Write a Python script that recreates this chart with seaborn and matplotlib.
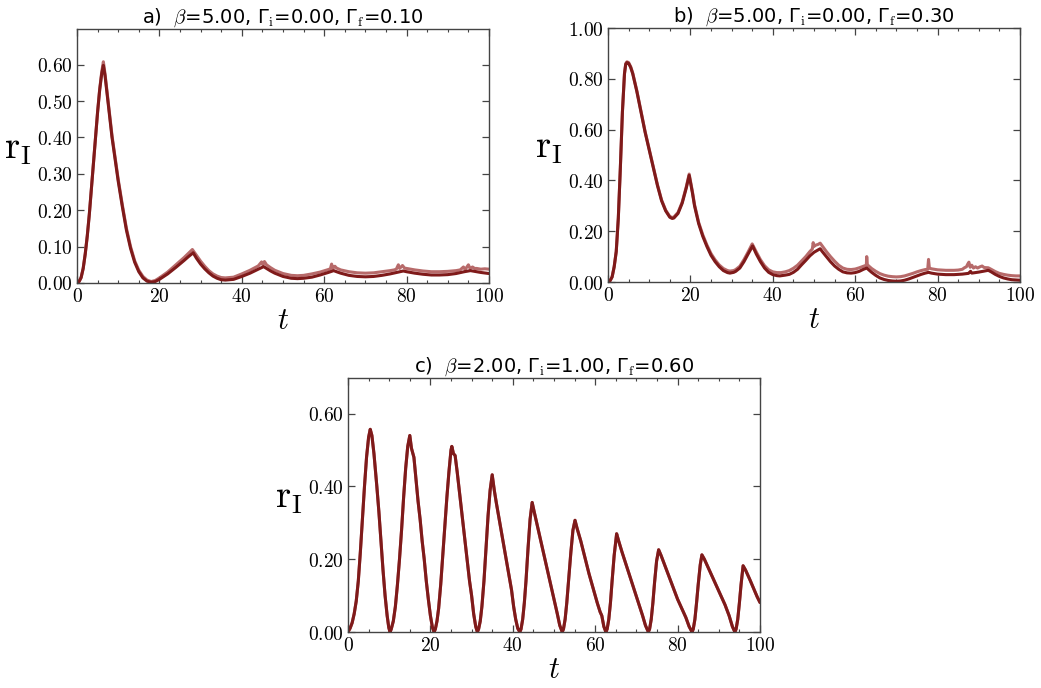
import matplotlib
matplotlib.use("Agg")
import matplotlib.pyplot as plt
import seaborn as sns
from matplotlib.ticker import MultipleLocator, FuncFormatter

# ---------------- data ----------------
titles = [r"a)  $\beta$=5.00, Γ$_\mathrm{i}$=0.00, Γ$_\mathrm{f}$=0.10",
          r"b)  $\beta$=5.00, Γ$_\mathrm{i}$=0.00, Γ$_\mathrm{f}$=0.30",
          r"c)  $\beta$=2.00, Γ$_\mathrm{i}$=1.00, Γ$_\mathrm{f}$=0.60"]
ylims = [0.698, 1.00, 0.698]
yticks_step = [0.10, 0.20, 0.20]

# panel a, dark curve
ta_dark = [0, 0.5, 1, 1.5, 2, 2.5, 3, 3.5, 4, 4.5, 5, 5.5, 6, 6.4, 6.8, 7.3, 8, 8.5, 9, 10, 11,
           12, 13, 14, 15, 16, 17, 18,
           19, 20, 22, 24, 26, 27, 28.2, 29, 30, 31, 32, 33, 34, 35, 36, 38, 40, 42, 44, 45.3,
           46, 47, 48, 50, 52, 53.5, 55, 57, 59, 61, 62.3, 63, 64, 66, 68, 70, 72, 74, 76, 78,
           79.2, 80, 82, 84, 86, 88, 90, 92, 94, 95.5, 96, 98, 100]
ra_dark = [0, 0.004, 0.015, 0.04, 0.08, 0.13, 0.19, 0.26, 0.33, 0.40, 0.47, 0.53, 0.575, 0.598,
           0.57, 0.52, 0.45, 0.40, 0.36, 0.28, 0.21,
           0.145, 0.095, 0.057, 0.031, 0.014, 0.005, 0.002,
           0.004, 0.010, 0.025, 0.043, 0.062, 0.072, 0.083, 0.068, 0.052, 0.039, 0.028, 0.019,
           0.013, 0.009, 0.008, 0.010, 0.018, 0.027, 0.038, 0.045,
           0.040, 0.033, 0.027, 0.018, 0.013, 0.012, 0.013, 0.016, 0.022, 0.029, 0.034, 0.031,
           0.027, 0.021, 0.018, 0.017, 0.018, 0.021, 0.025, 0.030,
           0.033, 0.031, 0.027, 0.024, 0.022, 0.022, 0.023, 0.026, 0.031, 0.034, 0.033, 0.029, 0.026]

# panel a, light curve
ta_light = [0, 0.5, 1, 1.5, 2, 2.5, 3, 3.5, 4, 4.5, 5, 5.5, 6, 6.4, 6.8, 7.3, 8, 8.5, 9, 10, 11,
            12, 13, 14, 15, 16, 17, 18,
            19, 20, 22, 24, 26, 27, 28.0, 29, 30, 31, 32, 33, 34, 35, 36, 38, 40, 42, 44, 44.8,
            45.1, 45.5, 46, 47, 48, 50, 52, 53.5, 55, 57, 59, 61, 61.5, 61.8, 62.1, 62.6, 63, 64,
            66, 68, 70, 72, 74, 76, 77, 77.5, 78, 78.3, 79, 79.5, 80, 82, 84, 86, 88, 90, 92, 93,
            93.8, 94.2, 95, 95.4, 96, 96.5, 97, 98, 99, 100]
ra_light = [0, 0.004, 0.015, 0.04, 0.08, 0.13, 0.19, 0.26, 0.33, 0.40, 0.47, 0.532, 0.58, 0.608,
            0.575, 0.525, 0.455, 0.405, 0.365, 0.285, 0.215,
            0.15, 0.10, 0.061, 0.035, 0.018, 0.008, 0.004,
            0.007, 0.014, 0.030, 0.050, 0.070, 0.081, 0.092, 0.076, 0.060, 0.046, 0.034, 0.025,
            0.019, 0.015, 0.014, 0.016, 0.025, 0.035, 0.047, 0.058,
            0.050, 0.059, 0.050, 0.042, 0.035, 0.026, 0.021, 0.020, 0.021, 0.025, 0.030, 0.037,
            0.039, 0.052, 0.040, 0.046, 0.041, 0.036,
            0.031, 0.028, 0.027, 0.028, 0.031, 0.034, 0.036, 0.038, 0.050, 0.040, 0.048, 0.041,
            0.040, 0.036, 0.033, 0.031, 0.031, 0.032, 0.034, 0.036,
            0.044, 0.037, 0.050, 0.040, 0.044, 0.040, 0.040, 0.038, 0.039, 0.038]

# panel b, dark curve
tb_dark = [0, 0.5, 1, 1.5, 2, 2.5, 3, 3.5, 4, 4.3, 4.6, 5, 5.5, 6, 7, 8, 9, 10, 11, 12, 13, 14,
           15, 15.6, 16, 17,
           18, 19, 19.7, 20.5, 21, 22, 23, 24, 25, 26, 27, 28, 29, 29.6, 30.5, 31, 32, 33, 34,
           35.1, 36, 37, 38, 39, 40, 41, 41.7, 43, 44, 45, 46, 47, 48, 49, 50, 51.5, 52, 53, 54,
           55, 56, 57, 58, 59, 60, 61, 62, 62.8, 63.5, 64, 65, 66, 67, 68, 69, 70, 71, 72, 73,
           74, 75, 76, 77, 77.8, 78.5, 80, 82, 84, 86, 87.5, 88, 88.3, 90, 91, 92.3, 93, 94, 95,
           96, 97, 98, 99, 100]
rb_dark = [0, 0.005, 0.02, 0.06, 0.12, 0.25, 0.45, 0.67, 0.82, 0.857, 0.864, 0.861, 0.845, 0.82,
           0.75, 0.67, 0.59, 0.52, 0.45, 0.38, 0.32, 0.28,
           0.255, 0.25, 0.252, 0.27,
           0.31, 0.37, 0.42, 0.35, 0.30, 0.23, 0.18, 0.14, 0.105, 0.08, 0.06, 0.045, 0.037,
           0.035, 0.038, 0.042, 0.055, 0.08, 0.11,
           0.142, 0.11, 0.08, 0.055, 0.038, 0.029, 0.025, 0.024, 0.027, 0.030, 0.038, 0.050,
           0.068, 0.085, 0.103, 0.117, 0.131, 0.12, 0.10, 0.08,
           0.063, 0.05, 0.04, 0.036, 0.035, 0.037, 0.042, 0.05, 0.055, 0.045, 0.038, 0.026,
           0.016, 0.010, 0.006, 0.004, 0.003, 0.004, 0.007, 0.012,
           0.018, 0.024, 0.030, 0.035, 0.038, 0.035, 0.031, 0.029, 0.029, 0.031, 0.034, 0.042,
           0.035, 0.039, 0.042, 0.046, 0.040, 0.030, 0.022,
           0.016, 0.012, 0.009, 0.008, 0.007]

# panel b, light curve
tb_light = [0, 0.5, 1, 1.5, 2, 2.5, 3, 3.5, 4, 4.3, 4.6, 5, 5.5, 6, 7, 8, 9, 10, 11, 12, 13, 14,
            15, 15.6, 16, 17,
            18, 19, 19.7, 20.5, 21, 22, 23, 24, 25, 26, 27, 28, 29, 29.6, 30.5, 31, 32, 33, 34,
            35, 36, 37, 38, 39, 40, 41, 42, 43, 44, 45, 46, 47, 48, 49, 49.6, 49.8, 50, 50.4, 51,
            51.5, 52, 53, 54, 55, 56, 57, 58, 59, 60, 61, 62, 62.7, 62.8, 62.95, 63.5, 64, 65, 66,
            67, 68, 69, 70, 71, 72, 73, 74, 75, 76, 77, 77.6, 77.8, 78, 78.5, 80, 82, 84, 85, 86,
            86.5, 87, 87.3, 87.6, 87.9, 88.3, 88.7, 89.2, 89.7, 90.3, 90.8, 91.3, 92.3, 93, 94,
            95, 96, 97, 98, 99, 100]
rb_light = [0, 0.005, 0.02, 0.06, 0.12, 0.25, 0.45, 0.67, 0.82, 0.86, 0.867, 0.864, 0.848, 0.823,
            0.753, 0.673, 0.593, 0.523, 0.453, 0.383, 0.323, 0.283,
            0.258, 0.254, 0.256, 0.274,
            0.314, 0.375, 0.425, 0.355, 0.305, 0.235, 0.186, 0.146, 0.112, 0.087, 0.067, 0.053,
            0.045, 0.043, 0.045, 0.049, 0.062, 0.088, 0.118,
            0.150, 0.118, 0.088, 0.064, 0.048, 0.040, 0.037, 0.037, 0.040, 0.045, 0.054, 0.066,
            0.083, 0.100, 0.120, 0.130, 0.155, 0.140, 0.145, 0.148,
            0.153, 0.142, 0.120, 0.100, 0.082, 0.066, 0.055, 0.050, 0.049, 0.051, 0.056, 0.062,
            0.066, 0.100, 0.068, 0.060, 0.053, 0.042, 0.033,
            0.027, 0.023, 0.021, 0.020, 0.021, 0.024, 0.029, 0.034, 0.040, 0.045, 0.049, 0.050,
            0.089, 0.055, 0.052, 0.048, 0.046, 0.046, 0.047, 0.050,
            0.056, 0.060, 0.070, 0.078, 0.058, 0.066, 0.055, 0.060, 0.055, 0.060, 0.063, 0.057,
            0.056, 0.050, 0.041,
            0.034, 0.030, 0.027, 0.025, 0.024, 0.024]

# panel c (both curves nearly coincide)
tc_dark = [0, 0.5, 1, 1.5, 2, 2.5, 3, 3.5, 4, 4.5, 5, 5.4, 5.8, 6.3, 7, 7.5, 8, 8.5, 9, 9.5, 9.9, 10.2,
           10.5, 11, 11.5, 12, 12.5, 13, 13.5, 14, 14.5, 15, 15.4, 16, 16.5, 17, 17.5, 18, 18.5, 19,
           19.5, 20, 20.5, 20.9,
           21.2, 21.6, 22, 22.5, 23, 23.5, 24, 24.5, 25, 25.2, 25.6, 26, 26.5, 27, 27.5, 28, 28.5,
           29, 29.5, 30, 30.5, 31, 31.4,
           31.7, 32.1, 32.5, 33, 33.5, 34, 34.5, 35, 35.5, 36, 37, 38, 39, 39.7, 40.2, 40.7, 41.2, 41.7,
           42, 42.4, 42.8, 43.2, 43.7, 44.2, 44.7, 45.2, 46, 47, 48, 49, 50, 50.8, 51.4, 52,
           52.3, 52.7, 53.1, 53.6, 54.1, 54.6, 55.1, 55.6, 56.5, 57.5, 58.5, 59.5, 60.5, 61.2, 61.6,
           62.1, 62.6,
           62.9, 63.3, 63.7, 64.1, 64.6, 65.2, 65.7, 66.5, 67.5, 68.5, 69.5, 70.5, 71.5, 72.2, 72.9,
           73.2, 73.6, 74, 74.4, 74.9, 75.4, 76, 77, 78, 79, 80, 81, 82, 82.8, 83.5,
           83.8, 84.2, 84.6, 85, 85.5, 85.9, 86.5, 87.5, 88.5, 89.5, 90.5, 91.5, 92.5, 93.3, 93.9,
           94.2, 94.6, 95, 95.4, 95.9, 96.5, 97.5, 98.5, 99.3, 100]
rc_dark = [0, 0.01, 0.025, 0.05, 0.085, 0.14, 0.22, 0.31, 0.40, 0.48, 0.535, 0.557, 0.54, 0.49,
           0.40, 0.33, 0.25, 0.17, 0.10, 0.045, 0.012, 0.0,
           0.008, 0.03, 0.07, 0.13, 0.20, 0.28, 0.37, 0.45, 0.51, 0.54, 0.505, 0.48, 0.42, 0.36,
           0.31, 0.25, 0.20, 0.14, 0.09, 0.045, 0.012, 0.0,
           0.008, 0.03, 0.065, 0.13, 0.21, 0.29, 0.37, 0.44, 0.50, 0.51, 0.49, 0.485, 0.44, 0.39,
           0.34, 0.29, 0.24, 0.19, 0.14, 0.10, 0.05, 0.015, 0.0,
           0.008, 0.03, 0.07, 0.14, 0.23, 0.32, 0.39, 0.432, 0.39, 0.355, 0.29, 0.225, 0.16, 0.115,
           0.07, 0.035, 0.01, 0.0,
           0.008, 0.035, 0.08, 0.14, 0.23, 0.31, 0.356, 0.33, 0.29, 0.24, 0.19, 0.14, 0.09, 0.05,
           0.018, 0.0,
           0.008, 0.035, 0.08, 0.15, 0.22, 0.28, 0.307, 0.285, 0.25, 0.205, 0.16, 0.12, 0.08, 0.055,
           0.045, 0.015, 0.0,
           0.008, 0.035, 0.08, 0.14, 0.21, 0.27, 0.25, 0.22, 0.185, 0.15, 0.115, 0.08, 0.045, 0.018, 0.0,
           0.008, 0.035, 0.08, 0.135, 0.195, 0.226, 0.21, 0.18, 0.15, 0.12, 0.09, 0.065, 0.04, 0.015, 0.0,
           0.008, 0.035, 0.08, 0.13, 0.185, 0.212, 0.20, 0.175, 0.15, 0.125, 0.10, 0.075, 0.045, 0.015, 0.0,
           0.008, 0.035, 0.08, 0.13, 0.182, 0.17, 0.145, 0.118, 0.097, 0.081]
tc_light = list(tc_dark)
rc_light = list(rc_dark)

series = [((ta_light, ra_light), (ta_dark, ra_dark)),
          ((tb_light, rb_light), (tb_dark, rb_dark)),
          ((tc_light, rc_light), (tc_dark, rc_dark))]

# ---------------- styling ----------------
sns.set_theme(style="ticks")
plt.rcParams["mathtext.fontset"] = "cm"
plt.rcParams["font.family"] = ["DejaVu Sans"]
plt.rcParams["axes.edgecolor"] = "#444444"
plt.rcParams["axes.linewidth"] = 1.0
plt.rcParams["text.color"] = "black"
plt.rcParams["axes.labelcolor"] = "black"

DARK = "#7f1a1a"
LIGHT = "#b05a5a"

W, H = 1041, 688
fig = plt.figure(figsize=(W / 100, H / 100), dpi=100)
boxes = [(77, 29), (608, 28), (348, 378)]
aw, ah = 412, 254

for i, ((lt, lr), (dt, dr)) in enumerate(series):
    x0, y0 = boxes[i]
    ax = fig.add_axes([x0 / W, 1 - (y0 + ah) / H, aw / W, ah / H])
    sns.lineplot(x=lt, y=lr, ax=ax, color=LIGHT, linewidth=2.2, alpha=0.9,
                 sort=False, estimator=None)
    sns.lineplot(x=dt, y=dr, ax=ax, color=DARK, linewidth=2.2,
                 sort=False, estimator=None)
    ax.set_xlim(0, 100)
    ax.set_ylim(0, ylims[i])
    ax.xaxis.set_major_locator(MultipleLocator(20))
    ax.xaxis.set_minor_locator(MultipleLocator(5))
    ax.yaxis.set_major_locator(MultipleLocator(yticks_step[i]))
    ax.xaxis.set_major_formatter(FuncFormatter(lambda v, p: f"${v:.0f}$"))
    ax.yaxis.set_major_formatter(FuncFormatter(lambda v, p: f"${v:.2f}$"))
    ax.tick_params(which="both", direction="in", top=True, right=True,
                   colors="#444444", labelcolor="black", labelsize=14, pad=3)
    ax.tick_params(which="major", length=5, width=0.9)
    ax.tick_params(which="minor", length=2.5, width=0.8)
    ax.set_xlabel(r"$t$", fontsize=22, labelpad=0)
    ax.set_ylabel(r"$\mathrm{r}_\mathrm{I}$", fontsize=28, rotation=0,
                  ha="center", va="center")
    ax.yaxis.set_label_coords(-0.142, 0.53)
    ax.set_title(titles[i], fontsize=14, pad=4, fontfamily="DejaVu Sans", color="black")

fig.savefig("out.png", dpi=100)
